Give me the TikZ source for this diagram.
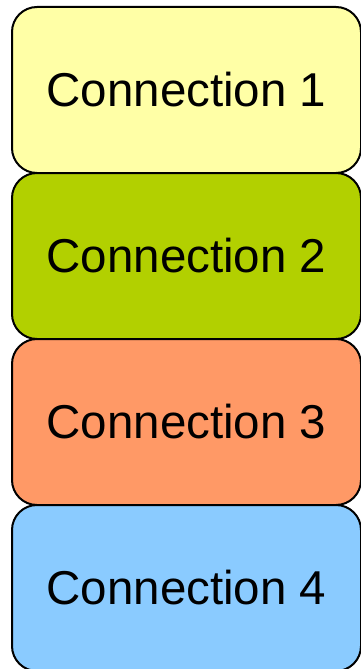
\documentclass[tikz,border=0pt]{standalone}
\usepackage{fontspec}
\setmainfont{Liberation Sans}
\definecolor{cyel}{HTML}{FFFFA6}
\definecolor{cgrn}{HTML}{B2D000}
\definecolor{corg}{HTML}{FF9966}
\definecolor{cblu}{HTML}{8ACBFF}
\begin{document}
\begin{tikzpicture}[x=1pt,y=-1pt,
  conn/.style={draw=black,line width=2pt,rounded corners=25pt,minimum width=349pt,minimum height=166pt,inner sep=0pt,font=\fontsize{47.5}{50}\selectfont,anchor=north west}]
\useasboundingbox (0,0) rectangle (361,669);
\node[conn,fill=cyel] (c1) at (11,6) {Connection 1};
\node[conn,fill=cgrn] (c2) at (11,172) {Connection 2};
\node[conn,fill=corg] (c3) at (11,338) {Connection 3};
\node[conn,fill=cblu] (c4) at (11,504) {Connection 4};
\end{tikzpicture}
\end{document}
